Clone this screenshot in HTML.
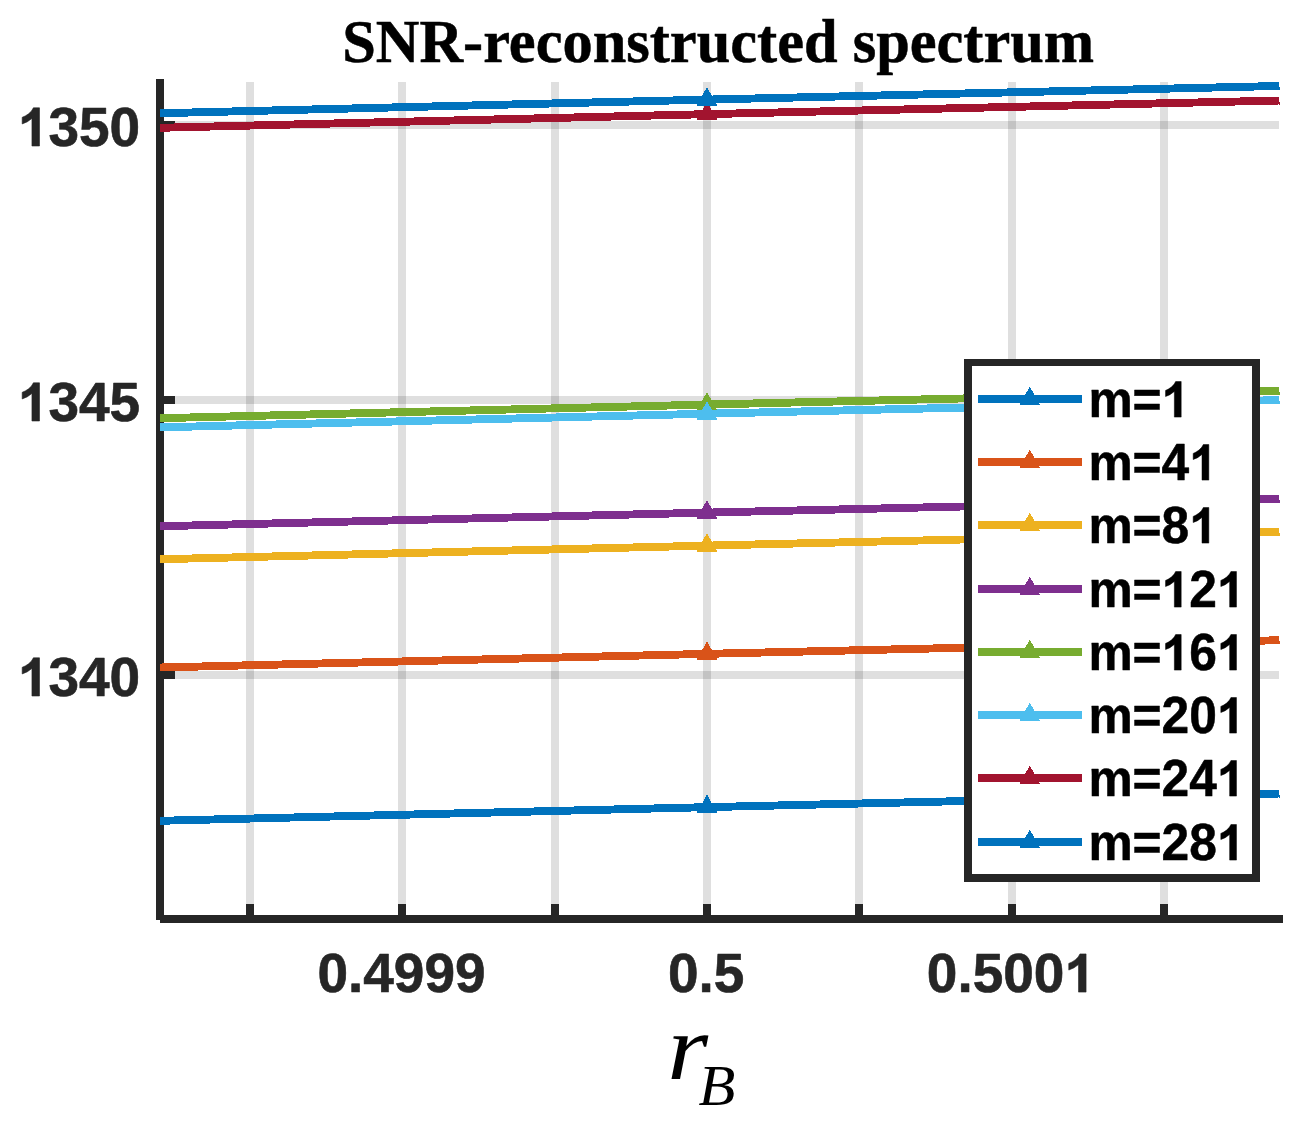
<!DOCTYPE html>
<html><head><meta charset="utf-8"><title>SNR-reconstructed spectrum</title>
<style>
html,body{margin:0;padding:0;background:#fff;}
body{width:1307px;height:1124px;overflow:hidden;font-family:"Liberation Sans",sans-serif;}
svg{display:block;}
.sb text{font-family:"Liberation Sans",sans-serif;font-weight:bold;}
.tt{font-family:"Liberation Serif",serif;font-weight:bold;font-size:60.4px;fill:#000;}
.xl{font-family:"Liberation Serif",serif;font-style:italic;fill:#000;}
</style></head><body>
<svg width="1307" height="1124" viewBox="0 0 1307 1124">
<rect width="1307" height="1124" fill="#fff"/>
<g shape-rendering="crispEdges">
<rect x="246" y="82" width="8" height="833" fill="rgba(38,38,38,0.15)"/>
<rect x="398" y="82" width="8" height="833" fill="rgba(38,38,38,0.15)"/>
<rect x="551" y="82" width="8" height="833" fill="rgba(38,38,38,0.15)"/>
<rect x="703" y="82" width="8" height="833" fill="rgba(38,38,38,0.15)"/>
<rect x="855" y="82" width="8" height="833" fill="rgba(38,38,38,0.15)"/>
<rect x="1008" y="82" width="8" height="833" fill="rgba(38,38,38,0.15)"/>
<rect x="1160" y="82" width="8" height="833" fill="rgba(38,38,38,0.15)"/>
<rect x="164" y="121" width="1115" height="8" fill="rgba(38,38,38,0.15)"/>
<rect x="164" y="396" width="1115" height="8" fill="rgba(38,38,38,0.15)"/>
<rect x="164" y="671" width="1115" height="8" fill="rgba(38,38,38,0.15)"/>
<rect x="156" y="79" width="8" height="841" fill="#262626"/>
<rect x="160" y="915" width="1123" height="8" fill="#262626"/>
<rect x="246" y="904" width="8" height="11" fill="#262626"/>
<rect x="398" y="904" width="8" height="11" fill="#262626"/>
<rect x="551" y="904" width="8" height="11" fill="#262626"/>
<rect x="703" y="904" width="8" height="11" fill="#262626"/>
<rect x="855" y="904" width="8" height="11" fill="#262626"/>
<rect x="1008" y="904" width="8" height="11" fill="#262626"/>
<rect x="1160" y="904" width="8" height="11" fill="#262626"/>
<rect x="164" y="121" width="11" height="8" fill="#262626"/>
<rect x="164" y="396" width="11" height="8" fill="#262626"/>
<rect x="164" y="671" width="11" height="8" fill="#262626"/>
<polygon points="160,816.85 707,803.20 1279,789.57 1279,797.47 707,811.10 160,824.75" fill="#0072BD"/>
<rect x="1279" y="795" width="1" height="3" fill="#0072BD"/>
<polygon points="707,794.6 717.5,813.1 696.5,813.1" fill="#0072BD"/>
<polygon points="160,663.55 707,649.90 1279,636.27 1279,644.17 707,657.80 160,671.45" fill="#D95319"/>
<rect x="1279" y="641" width="1" height="3" fill="#D95319"/>
<polygon points="707,641.4 717.5,659.9 696.5,659.9" fill="#D95319"/>
<polygon points="160,555.30 707,541.65 1279,528.02 1279,535.92 707,549.55 160,563.20" fill="#EDB120"/>
<rect x="1279" y="533" width="1" height="3" fill="#EDB120"/>
<polygon points="707,533.1 717.5,551.6 696.5,551.6" fill="#EDB120"/>
<polygon points="160,522.30 707,508.65 1279,495.02 1279,502.92 707,516.55 160,530.20" fill="#7E2F8E"/>
<rect x="1279" y="500" width="1" height="3" fill="#7E2F8E"/>
<polygon points="707,500.1 717.5,518.6 696.5,518.6" fill="#7E2F8E"/>
<polygon points="160,414.25 707,400.60 1279,386.97 1279,394.87 707,408.50 160,422.15" fill="#77AC30"/>
<rect x="1279" y="392" width="1" height="3" fill="#77AC30"/>
<polygon points="707,392.1 717.5,410.6 696.5,410.6" fill="#77AC30"/>
<polygon points="160,423.40 707,409.75 1279,396.12 1279,404.02 707,417.65 160,431.30" fill="#4DBEEE"/>
<rect x="1279" y="401" width="1" height="3" fill="#4DBEEE"/>
<polygon points="707,401.2 717.5,419.7 696.5,419.7" fill="#4DBEEE"/>
<polygon points="160,123.85 707,110.20 1279,96.57 1279,104.47 707,118.10 160,131.75" fill="#A2142F"/>
<rect x="1279" y="102" width="1" height="3" fill="#A2142F"/>
<polygon points="707,101.6 717.5,120.1 696.5,120.1" fill="#A2142F"/>
<polygon points="160,109.30 707,95.65 1279,82.02 1279,89.92 707,103.55 160,117.20" fill="#0072BD"/>
<rect x="1279" y="87" width="1" height="3" fill="#0072BD"/>
<polygon points="707,87.1 717.5,105.6 696.5,105.6" fill="#0072BD"/>
<rect x="964" y="359" width="296" height="523" fill="#262626"/>
<rect x="972" y="366" width="280" height="508" fill="#fff"/>
<rect x="978" y="395" width="104" height="8" fill="#0072BD"/>
<polygon points="1029.8,386.5 1040.3,405 1019.3,405" fill="#0072BD"/>
<rect x="978" y="458" width="104" height="8" fill="#D95319"/>
<polygon points="1029.8,449.5 1040.3,468 1019.3,468" fill="#D95319"/>
<rect x="978" y="521" width="104" height="8" fill="#EDB120"/>
<polygon points="1029.8,512.5 1040.3,531 1019.3,531" fill="#EDB120"/>
<rect x="978" y="585" width="104" height="8" fill="#7E2F8E"/>
<polygon points="1029.8,576.5 1040.3,595 1019.3,595" fill="#7E2F8E"/>
<rect x="978" y="648" width="104" height="8" fill="#77AC30"/>
<polygon points="1029.8,639.5 1040.3,658 1019.3,658" fill="#77AC30"/>
<rect x="978" y="711" width="104" height="8" fill="#4DBEEE"/>
<polygon points="1029.8,702.5 1040.3,721 1019.3,721" fill="#4DBEEE"/>
<rect x="978" y="774" width="104" height="8" fill="#A2142F"/>
<polygon points="1029.8,765.5 1040.3,784 1019.3,784" fill="#A2142F"/>
<rect x="978" y="838" width="104" height="8" fill="#0072BD"/>
<polygon points="1029.8,829.5 1040.3,848 1019.3,848" fill="#0072BD"/>
</g>
<g class="sb"><text transform="translate(1088.40,417.1) scale(1,1.03)" font-size="49.7" fill="#000" stroke="#000" stroke-width="0.5" stroke-linejoin="round">m</text><text transform="translate(1132.59,417.1) scale(1,1.03)" font-size="49.7" fill="#000" stroke="#000" stroke-width="0.5" stroke-linejoin="round">=</text><path d="M806 0H525V1059Q371 915 162 846V1101Q272 1137 401 1237T578 1466H806Z" transform="translate(1161.62,417.1) scale(0.02427,-0.02427)" fill="#000" stroke="#000" stroke-width="20.6"/></g>
<g class="sb"><text transform="translate(1088.40,480.1) scale(1,1.03)" font-size="49.7" fill="#000" stroke="#000" stroke-width="0.5" stroke-linejoin="round">m</text><text transform="translate(1132.59,480.1) scale(1,1.03)" font-size="49.7" fill="#000" stroke="#000" stroke-width="0.5" stroke-linejoin="round">=</text><text transform="translate(1161.62,480.1) scale(1,1.03)" font-size="49.7" fill="#000" stroke="#000" stroke-width="0.5" stroke-linejoin="round">4</text><path d="M806 0H525V1059Q371 915 162 846V1101Q272 1137 401 1237T578 1466H806Z" transform="translate(1189.26,480.1) scale(0.02427,-0.02427)" fill="#000" stroke="#000" stroke-width="20.6"/></g>
<g class="sb"><text transform="translate(1088.40,543.1) scale(1,1.03)" font-size="49.7" fill="#000" stroke="#000" stroke-width="0.5" stroke-linejoin="round">m</text><text transform="translate(1132.59,543.1) scale(1,1.03)" font-size="49.7" fill="#000" stroke="#000" stroke-width="0.5" stroke-linejoin="round">=</text><text transform="translate(1161.62,543.1) scale(1,1.03)" font-size="49.7" fill="#000" stroke="#000" stroke-width="0.5" stroke-linejoin="round">8</text><path d="M806 0H525V1059Q371 915 162 846V1101Q272 1137 401 1237T578 1466H806Z" transform="translate(1189.26,543.1) scale(0.02427,-0.02427)" fill="#000" stroke="#000" stroke-width="20.6"/></g>
<g class="sb"><text transform="translate(1088.40,607.1) scale(1,1.03)" font-size="49.7" fill="#000" stroke="#000" stroke-width="0.5" stroke-linejoin="round">m</text><text transform="translate(1132.59,607.1) scale(1,1.03)" font-size="49.7" fill="#000" stroke="#000" stroke-width="0.5" stroke-linejoin="round">=</text><path d="M806 0H525V1059Q371 915 162 846V1101Q272 1137 401 1237T578 1466H806Z" transform="translate(1161.62,607.1) scale(0.02427,-0.02427)" fill="#000" stroke="#000" stroke-width="20.6"/><text transform="translate(1189.26,607.1) scale(1,1.03)" font-size="49.7" fill="#000" stroke="#000" stroke-width="0.5" stroke-linejoin="round">2</text><path d="M806 0H525V1059Q371 915 162 846V1101Q272 1137 401 1237T578 1466H806Z" transform="translate(1216.90,607.1) scale(0.02427,-0.02427)" fill="#000" stroke="#000" stroke-width="20.6"/></g>
<g class="sb"><text transform="translate(1088.40,670.1) scale(1,1.03)" font-size="49.7" fill="#000" stroke="#000" stroke-width="0.5" stroke-linejoin="round">m</text><text transform="translate(1132.59,670.1) scale(1,1.03)" font-size="49.7" fill="#000" stroke="#000" stroke-width="0.5" stroke-linejoin="round">=</text><path d="M806 0H525V1059Q371 915 162 846V1101Q272 1137 401 1237T578 1466H806Z" transform="translate(1161.62,670.1) scale(0.02427,-0.02427)" fill="#000" stroke="#000" stroke-width="20.6"/><text transform="translate(1189.26,670.1) scale(1,1.03)" font-size="49.7" fill="#000" stroke="#000" stroke-width="0.5" stroke-linejoin="round">6</text><path d="M806 0H525V1059Q371 915 162 846V1101Q272 1137 401 1237T578 1466H806Z" transform="translate(1216.90,670.1) scale(0.02427,-0.02427)" fill="#000" stroke="#000" stroke-width="20.6"/></g>
<g class="sb"><text transform="translate(1088.40,733.1) scale(1,1.03)" font-size="49.7" fill="#000" stroke="#000" stroke-width="0.5" stroke-linejoin="round">m</text><text transform="translate(1132.59,733.1) scale(1,1.03)" font-size="49.7" fill="#000" stroke="#000" stroke-width="0.5" stroke-linejoin="round">=</text><text transform="translate(1161.62,733.1) scale(1,1.03)" font-size="49.7" fill="#000" stroke="#000" stroke-width="0.5" stroke-linejoin="round">2</text><text transform="translate(1189.26,733.1) scale(1,1.03)" font-size="49.7" fill="#000" stroke="#000" stroke-width="0.5" stroke-linejoin="round">0</text><path d="M806 0H525V1059Q371 915 162 846V1101Q272 1137 401 1237T578 1466H806Z" transform="translate(1216.90,733.1) scale(0.02427,-0.02427)" fill="#000" stroke="#000" stroke-width="20.6"/></g>
<g class="sb"><text transform="translate(1088.40,796.1) scale(1,1.03)" font-size="49.7" fill="#000" stroke="#000" stroke-width="0.5" stroke-linejoin="round">m</text><text transform="translate(1132.59,796.1) scale(1,1.03)" font-size="49.7" fill="#000" stroke="#000" stroke-width="0.5" stroke-linejoin="round">=</text><text transform="translate(1161.62,796.1) scale(1,1.03)" font-size="49.7" fill="#000" stroke="#000" stroke-width="0.5" stroke-linejoin="round">2</text><text transform="translate(1189.26,796.1) scale(1,1.03)" font-size="49.7" fill="#000" stroke="#000" stroke-width="0.5" stroke-linejoin="round">4</text><path d="M806 0H525V1059Q371 915 162 846V1101Q272 1137 401 1237T578 1466H806Z" transform="translate(1216.90,796.1) scale(0.02427,-0.02427)" fill="#000" stroke="#000" stroke-width="20.6"/></g>
<g class="sb"><text transform="translate(1088.40,860.1) scale(1,1.03)" font-size="49.7" fill="#000" stroke="#000" stroke-width="0.5" stroke-linejoin="round">m</text><text transform="translate(1132.59,860.1) scale(1,1.03)" font-size="49.7" fill="#000" stroke="#000" stroke-width="0.5" stroke-linejoin="round">=</text><text transform="translate(1161.62,860.1) scale(1,1.03)" font-size="49.7" fill="#000" stroke="#000" stroke-width="0.5" stroke-linejoin="round">2</text><text transform="translate(1189.26,860.1) scale(1,1.03)" font-size="49.7" fill="#000" stroke="#000" stroke-width="0.5" stroke-linejoin="round">8</text><path d="M806 0H525V1059Q371 915 162 846V1101Q272 1137 401 1237T578 1466H806Z" transform="translate(1216.90,860.1) scale(0.02427,-0.02427)" fill="#000" stroke="#000" stroke-width="20.6"/></g>
<g class="sb"><path d="M806 0H525V1059Q371 915 162 846V1101Q272 1137 401 1237T578 1466H806Z" transform="translate(17.85,146) scale(0.02686,-0.02605)" fill="#262626" stroke="#262626" stroke-width="22.3"/><text transform="translate(48.43,146) scale(1,1.01)" font-size="55" fill="#262626" stroke="#262626" stroke-width="0.6" stroke-linejoin="round">3</text><text transform="translate(79.02,146) scale(1,1.01)" font-size="55" fill="#262626" stroke="#262626" stroke-width="0.6" stroke-linejoin="round">5</text><text transform="translate(109.61,146) scale(1,1.01)" font-size="55" fill="#262626" stroke="#262626" stroke-width="0.6" stroke-linejoin="round">0</text></g>
<g class="sb"><path d="M806 0H525V1059Q371 915 162 846V1101Q272 1137 401 1237T578 1466H806Z" transform="translate(17.85,421) scale(0.02686,-0.02605)" fill="#262626" stroke="#262626" stroke-width="22.3"/><text transform="translate(48.43,421) scale(1,1.01)" font-size="55" fill="#262626" stroke="#262626" stroke-width="0.6" stroke-linejoin="round">3</text><text transform="translate(79.02,421) scale(1,1.01)" font-size="55" fill="#262626" stroke="#262626" stroke-width="0.6" stroke-linejoin="round">4</text><text transform="translate(109.61,421) scale(1,1.01)" font-size="55" fill="#262626" stroke="#262626" stroke-width="0.6" stroke-linejoin="round">5</text></g>
<g class="sb"><path d="M806 0H525V1059Q371 915 162 846V1101Q272 1137 401 1237T578 1466H806Z" transform="translate(17.85,696) scale(0.02686,-0.02605)" fill="#262626" stroke="#262626" stroke-width="22.3"/><text transform="translate(48.43,696) scale(1,1.01)" font-size="55" fill="#262626" stroke="#262626" stroke-width="0.6" stroke-linejoin="round">3</text><text transform="translate(79.02,696) scale(1,1.01)" font-size="55" fill="#262626" stroke="#262626" stroke-width="0.6" stroke-linejoin="round">4</text><text transform="translate(109.61,696) scale(1,1.01)" font-size="55" fill="#262626" stroke="#262626" stroke-width="0.6" stroke-linejoin="round">0</text></g>
<g class="sb"><text transform="translate(317.39,992.1) scale(1,1.01)" font-size="55" fill="#262626" stroke="#262626" stroke-width="0.6" stroke-linejoin="round">0</text><text transform="translate(347.98,992.1) scale(1,1.01)" font-size="55" fill="#262626" stroke="#262626" stroke-width="0.6" stroke-linejoin="round">.</text><text transform="translate(363.26,992.1) scale(1,1.01)" font-size="55" fill="#262626" stroke="#262626" stroke-width="0.6" stroke-linejoin="round">4</text><text transform="translate(393.85,992.1) scale(1,1.01)" font-size="55" fill="#262626" stroke="#262626" stroke-width="0.6" stroke-linejoin="round">9</text><text transform="translate(424.43,992.1) scale(1,1.01)" font-size="55" fill="#262626" stroke="#262626" stroke-width="0.6" stroke-linejoin="round">9</text><text transform="translate(455.02,992.1) scale(1,1.01)" font-size="55" fill="#262626" stroke="#262626" stroke-width="0.6" stroke-linejoin="round">9</text></g>
<g class="sb"><text transform="translate(667.97,992.1) scale(1,1.01)" font-size="55" fill="#262626" stroke="#262626" stroke-width="0.6" stroke-linejoin="round">0</text><text transform="translate(698.56,992.1) scale(1,1.01)" font-size="55" fill="#262626" stroke="#262626" stroke-width="0.6" stroke-linejoin="round">.</text><text transform="translate(713.84,992.1) scale(1,1.01)" font-size="55" fill="#262626" stroke="#262626" stroke-width="0.6" stroke-linejoin="round">5</text></g>
<g class="sb"><text transform="translate(926.79,992.1) scale(1,1.01)" font-size="55" fill="#262626" stroke="#262626" stroke-width="0.6" stroke-linejoin="round">0</text><text transform="translate(957.38,992.1) scale(1,1.01)" font-size="55" fill="#262626" stroke="#262626" stroke-width="0.6" stroke-linejoin="round">.</text><text transform="translate(972.66,992.1) scale(1,1.01)" font-size="55" fill="#262626" stroke="#262626" stroke-width="0.6" stroke-linejoin="round">5</text><text transform="translate(1003.25,992.1) scale(1,1.01)" font-size="55" fill="#262626" stroke="#262626" stroke-width="0.6" stroke-linejoin="round">0</text><text transform="translate(1033.83,992.1) scale(1,1.01)" font-size="55" fill="#262626" stroke="#262626" stroke-width="0.6" stroke-linejoin="round">0</text><path d="M806 0H525V1059Q371 915 162 846V1101Q272 1137 401 1237T578 1466H806Z" transform="translate(1064.42,992.1) scale(0.02686,-0.02605)" fill="#262626" stroke="#262626" stroke-width="22.3"/></g>
<text class="tt" transform="translate(718.2,61.8) scale(1,1.02)" text-anchor="middle" stroke="#000" stroke-width="0.5">SNR-reconstructed spectrum</text>
<text class="xl" transform="translate(667.2,1078.8) scale(1.13,1)" font-size="93">r</text>
<text class="xl" transform="translate(698.4,1105) scale(1.04,1)" font-size="58">B</text>
</svg></body></html>
